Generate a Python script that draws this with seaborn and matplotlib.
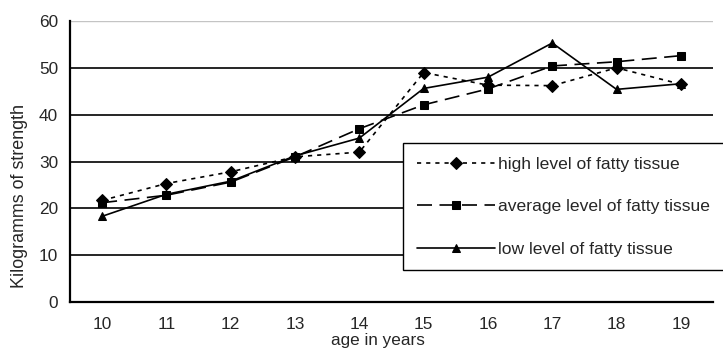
import pandas as pd
import matplotlib
matplotlib.use("Agg")
import matplotlib.pyplot as plt
import seaborn as sns

ages = [10, 11, 12, 13, 14, 15, 16, 17, 18, 19]
high_fat = [21.7, 25.3, 27.8, 31.0, 32.0, 49.0, 46.3, 46.2, 50.0, 46.5]
avg_fat = [21.2, 22.8, 25.6, 31.0, 37.0, 42.1, 45.5, 50.4, 51.3, 52.6]
low_fat = [18.3, 23.0, 25.8, 31.2, 35.0, 45.6, 48.0, 55.3, 45.4, 46.6]
groups = ["high level of fatty tissue", "average level of fatty tissue", "low level of fatty tissue"]

df = pd.concat([
    pd.DataFrame({"age": ages, "kg": vals, "group": g})
    for g, vals in zip(groups, [high_fat, avg_fat, low_fat])
], ignore_index=True)

sns.set_style("white")
plt.rcParams["font.family"] = ["Liberation Sans", "DejaVu Sans"]
FS = 12.4

fig = plt.figure(figsize=(7.23, 3.53), dpi=100)
ax = fig.add_axes([70 / 723, 1 - 302 / 353, 643 / 723, 281 / 353])

sns.lineplot(data=df, x="age", y="kg", style="group", hue="group",
             palette=["black"] * 3, markers=["D", "s", "^"],
             dashes=[(2.5, 3), (9, 4.5), ""], markersize=6,
             markeredgecolor="black", linewidth=1.2, ax=ax, legend=True)

ax.set_ylim(0, 60)
ax.set_xlim(9.5, 19.5)
ax.set_yticks(range(0, 61, 10))
for y in range(10, 51, 10):
    ax.axhline(y, color="black", lw=1.2, zorder=0)
ax.axhline(60, color="#c4c4c4", lw=1.0, zorder=0)

ax.set_xticks([a - 0.5 for a in ages] + [ages[-1] + 0.5])
ax.set_xticklabels([])
ax.set_xticks(ages, minor=True)
ax.set_xticklabels([str(a) for a in ages], minor=True, fontsize=FS)
ax.tick_params(axis="x", which="minor", length=0, pad=11)
ax.tick_params(axis="x", which="major", direction="out", length=4, width=1.5, color="black")
ax.tick_params(axis="y", direction="out", length=4, width=1.5, color="black", labelsize=FS, pad=4.5)

for s in ["top", "right"]:
    ax.spines[s].set_visible(False)
for s in ["left", "bottom"]:
    ax.spines[s].set_color("black")
    ax.spines[s].set_linewidth(1.6)

ax.set_xlabel("age in years", fontsize=12.3)
ax.xaxis.set_label_coords(0.479, -0.112)
ax.set_ylabel("Kilogramms of strength", fontsize=12.9)
ax.yaxis.set_label_coords(-0.066, 0.377)

handles, labels = ax.get_legend_handles_labels()
leg = ax.legend(handles, labels, loc="upper left",
                bbox_to_anchor=(403 / 723, 1 - 143 / 353), bbox_transform=fig.transFigure,
                frameon=True, fancybox=False, framealpha=1, edgecolor="black",
                fontsize=12.6, handlelength=4.5, handletextpad=0.15,
                labelspacing=1.55, borderpad=0.78, borderaxespad=0)
leg.get_frame().set_linewidth(1.0)

fig.savefig("out.png", dpi=100)
